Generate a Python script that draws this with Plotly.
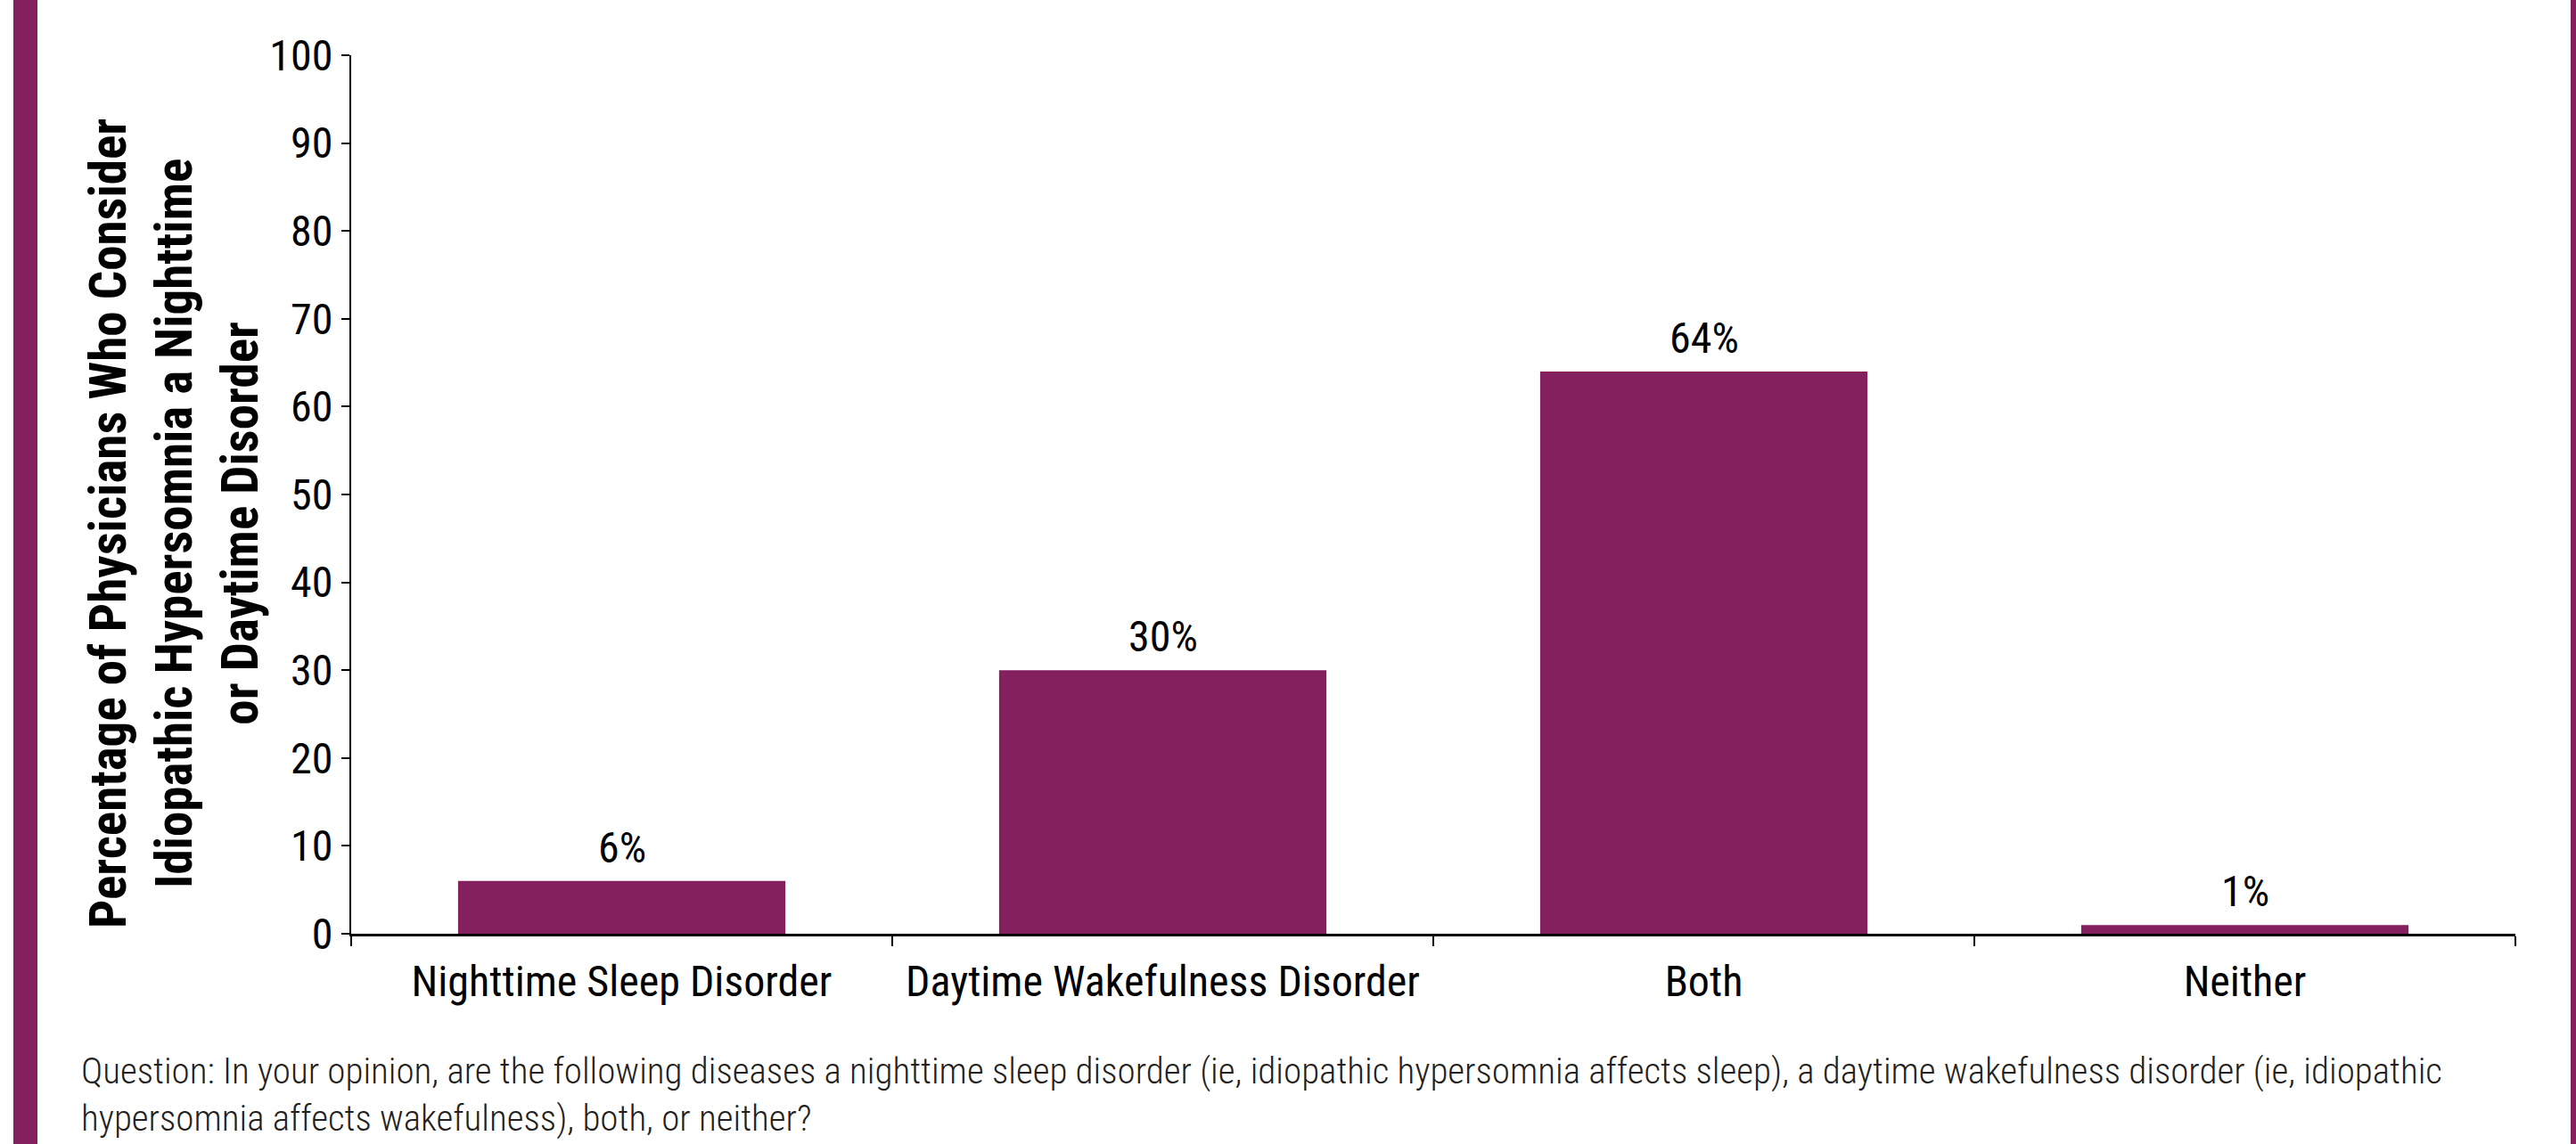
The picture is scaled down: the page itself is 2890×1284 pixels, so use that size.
import plotly.graph_objects as go

# Survey responses: how physicians classify idiopathic hypersomnia
categories = ["Nighttime Sleep Disorder", "Daytime Wakefulness Disorder", "Both", "Neither"]
percentages = [6, 30, 64, 1]
y_ticks = [0, 10, 20, 30, 40, 50, 60, 70, 80, 90, 100]

y_title = ("Percentage of Physicians Who Consider<br>"
           "Idiopathic Hypersomnia a Nighttime<br>"
           "or Daytime Disorder")
question = ("Question: In your opinion, are the following diseases a nighttime sleep disorder "
            "(ie, idiopathic hypersomnia affects sleep), a daytime wakefulness disorder (ie, idiopathic<br>"
            "hypersomnia affects wakefulness), both, or neither?")

W, H = 2890, 1284
PLUM = "#85205f"
FONT = "Roboto Condensed, DejaVu Sans Condensed, Liberation Sans, sans-serif"

# plot area in pixels
L, R, T, B = 394, 2822, 62, 1048
pw, ph = R - L, B - T


def px_x(x):
    return (x - L) / pw


def px_y(y):
    return (B - y) / ph


fig = go.Figure(
    go.Bar(
        x=categories,
        y=percentages,
        marker=dict(color=PLUM, line=dict(width=0)),
        width=0.605,
        hoverinfo="skip",
    )
)

# value labels above each bar
for cat, val in zip(categories, percentages):
    fig.add_annotation(
        x=cat, y=val, xref="x", yref="y",
        text=f"{val}%", showarrow=False,
        yanchor="bottom", yshift=7,
        font=dict(family=FONT, size=48, color="#000000"),
    )

# rotated axis title
fig.add_annotation(
    x=px_x(195), y=px_y(588), xref="paper", yref="paper",
    text=y_title, showarrow=False, textangle=-90,
    xanchor="center", yanchor="middle", align="center",
    font=dict(family=FONT, size=57, color="#000000", weight="bold"),
)

# survey question footnote
fig.add_annotation(
    x=px_x(89), y=px_y(1176), xref="paper", yref="paper",
    text=question, showarrow=False,
    xanchor="left", yanchor="top", align="left",
    font=dict(family=FONT, size=41, color="#231f20", weight=300),
)

# decorative side rules
fig.add_shape(type="rect", xref="paper", yref="paper",
              x0=px_x(15), x1=px_x(42), y0=px_y(H), y1=px_y(0),
              fillcolor=PLUM, line=dict(width=0), layer="below")
fig.add_shape(type="rect", xref="paper", yref="paper",
              x0=px_x(2884), x1=px_x(2891), y0=px_y(H), y1=px_y(0),
              fillcolor=PLUM, line=dict(width=0), layer="below")

fig.update_layout(
    width=W, height=H,
    margin=dict(l=L, r=W - R, t=T, b=H - B, autoexpand=False),
    paper_bgcolor="white", plot_bgcolor="white",
    showlegend=False,
    bargap=0.4,
    font=dict(family=FONT, size=48, color="#000000"),
)

fig.update_xaxes(
    range=[-0.5, 3.5],
    showline=True, linecolor="#000000", linewidth=3,
    ticks="outside", tickson="boundaries", ticklen=11, tickwidth=2, tickcolor="#000000",
    tickfont=dict(family=FONT, size=48, color="#000000"),
    tickangle=0,
    ticklabelstandoff=9,
    showgrid=False, zeroline=False,
)

fig.update_yaxes(
    range=[0, 100], tickvals=y_ticks,
    showline=True, linecolor="#000000", linewidth=2,
    ticks="outside", ticklen=9, tickwidth=2, tickcolor="#000000",
    tickfont=dict(family=FONT, size=48, color="#000000"),
    showgrid=False, zeroline=False,
)

fig.write_html("out.html")
